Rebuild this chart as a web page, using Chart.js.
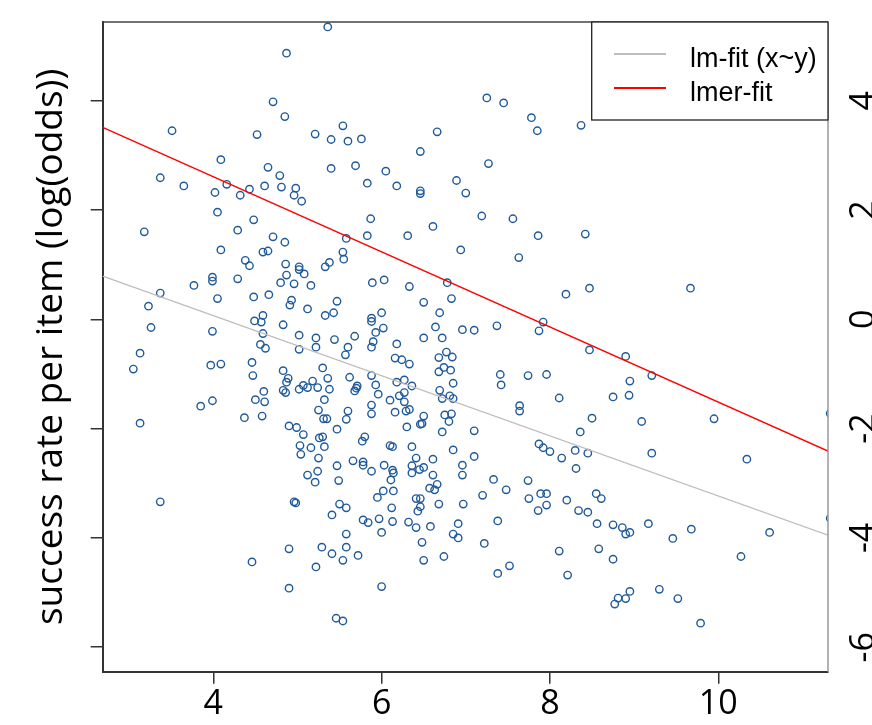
<!DOCTYPE html>
<html>
<head>
<meta charset="utf-8">
<script src="https://cdn.jsdelivr.net/npm/chart.js@4.4.1/dist/chart.umd.min.js"></script>
<style>
html, body { margin: 0; padding: 0; background: #ffffff; }
canvas { display: block; }
</style>
</head>
<body>
<canvas id="fit_Chart" width="872" height="725"></canvas>
<script>
// 題目 (x) 與成功率 (y)
const itemX = [
    4.87,4.71,4.85,3.51,4.52,4.09,4.65,4.79,3.37,3.65,
    4.16,4.61,4.81,4.02,4.32,4.43,4.05,4.48,3.18,4.29,
    4.71,4.85,4.09,4.59,4.65,4.38,4.43,4.86,4.87,3.99,
    3.99,4.29,3.77,4.80,3.37,4.05,4.48,4.66,4.93,4.91,
    3.23,3.26,3.99,4.49,4.59,4.57,4.83,4.59,4.56,3.13,
    4.62,5.36,5.54,5.21,5.40,5.60,5.76,6.66,6.46,5.40,
    5.69,6.05,5.83,6.18,6.46,6.46,6.89,7.00,4.98,4.96,
    5.05,5.87,5.83,5.58,6.31,6.61,6.94,5.54,5.55,5.38,
    5.33,5.02,5.02,5.08,4.96,5.16,5.89,6.03,6.33,6.78,
    5.47,5.12,5.33,5.43,5.88,5.88,6.00,6.50,6.83,6.69,
    5.02,5.22,5.44,5.68,5.93,6.02,5.90,6.18,6.50,6.64,
    6.72,6.96,7.10,5.60,5.22,5.88,6.77,5.02,5.57,7.25,
    7.45,7.78,7.85,8.37,7.27,7.19,7.56,7.86,8.42,7.63,
    8.19,8.47,7.37,7.87,7.92,8.47,9.67,8.90,6.68,6.84,
    3.05,3.13,3.37,3.97,4.09,4.46,4.47,4.60,4.50,4.61,
    3.99,3.85,4.37,4.58,4.83,4.87,4.83,4.86,4.90,4.46,
    4.90,4.90,4.89,6.16,6.24,6.33,6.68,6.74,6.82,5.30,
    5.02,5.07,5.12,5.18,5.24,5.36,5.38,5.62,5.71,5.70,
    5.68,5.88,5.93,5.96,6.18,6.27,6.36,6.27,6.21,6.27,
    6.10,6.33,6.29,6.16,5.88,5.88,5.32,5.25,5.60,5.58,
    5.31,5.35,6.69,6.72,6.81,6.85,6.85,6.50,6.46,6.48,
    6.30,6.75,6.83,6.80,6.72,7.10,4.99,5.07,5.47,5.26,
    5.30,5.80,5.77,5.03,5.04,5.16,5.32,6.10,6.13,6.36,
    6.85,7.10,5.25,6.41,6.61,5.66,5.78,5.78,5.47,6.03,
    6.36,6.45,6.50,6.36,6.13,6.14,5.88,5.24,5.12,5.21,
    5.49,6.11,6.61,6.96,6.96,6.66,6.57,6.63,6.02,6.14,
    5.95,6.41,6.46,6.46,6.43,4.96,4.98,5.50,5.58,5.41,
    6.12,6.68,6.97,5.78,5.84,5.97,6.13,6.32,6.41,6.58,
    6.91,5.58,6.00,6.85,6.91,6.48,5.29,5.41,5.58,5.54,
    5.72,5.22,6.50,6.74,6.00,5.46,5.54,7.41,7.42,7.74,
    7.96,9.21,8.95,8.94,8.75,8.11,7.64,7.64,8.50,9.09,
    8.36,7.87,7.92,8.00,8.14,8.30,8.45,9.21,8.31,7.33,
    7.74,7.48,7.20,7.75,7.89,7.96,7.96,7.86,8.20,8.55,
    8.61,8.34,8.45,7.38,8.56,8.75,8.86,8.90,8.95,9.17,
    7.22,8.11,8.58,8.75,7.52,7.38,8.21,8.95,8.81,8.90,
    8.77,9.30,9.95,10.34,9.46,9.68,10.61,10.27,9.52,9.79,
    11.33,11.33
];
const itemY = [
    4.87,3.98,3.71,3.45,3.38,2.92,2.78,2.63,2.59,2.44,
    2.47,2.44,2.42,2.32,2.27,2.38,1.96,1.82,1.60,1.63,
    1.51,1.41,1.27,1.23,1.25,1.08,0.98,1.01,0.81,0.77,
    0.70,0.74,0.62,0.67,0.48,0.38,0.41,0.45,0.35,0.26,
    0.24,-0.15,-0.22,-0.03,0.07,-0.05,-0.10,-0.26,-0.46,-0.62,
    -0.53,5.35,3.54,3.39,3.29,3.26,3.30,3.43,3.07,2.76,
    2.81,2.71,2.49,2.44,2.35,2.30,2.54,2.31,2.40,2.27,
    2.16,1.84,1.53,1.48,1.53,1.70,1.27,1.23,1.10,1.04,
    0.96,0.96,0.91,0.83,0.65,0.62,0.67,0.72,0.60,0.67,
    0.33,0.19,0.07,0.12,0.02,-0.04,0.12,0.31,0.38,0.12,
    -0.29,-0.34,-0.37,-0.31,-0.24,-0.16,-0.41,-0.45,-0.34,-0.14,
    -0.34,-0.19,-0.20,-0.51,-0.51,-0.51,-0.60,-0.55,-0.65,4.05,
    3.96,3.69,3.45,3.55,2.85,1.89,1.84,1.53,1.56,1.13,
    0.46,0.57,-0.12,-0.21,-0.05,-0.56,0.57,-0.68,-0.70,-0.69,
    -0.91,-1.90,-3.34,-0.84,-0.82,-0.79,-1.03,-1.32,-1.47,-1.51,
    -1.49,-1.59,-1.80,-1.77,-0.94,-1.15,-1.30,-1.34,-1.95,-4.44,
    -4.20,-4.92,-1.08,-0.71,-0.74,-0.82,-0.96,-0.88,-0.93,-0.89,
    -1.28,-1.21,-1.25,-1.13,-1.25,-1.08,-1.28,-1.06,-1.22,-1.26,
    -1.31,-1.03,-1.20,-1.37,-1.15,-1.11,-1.22,-1.34,-1.40,-1.51,
    -1.48,-1.65,-1.68,-1.70,-1.57,-1.73,-1.47,-1.66,-1.68,-1.83,
    -1.82,-1.82,-1.30,-1.45,-1.40,-1.45,-1.17,-1.77,-1.92,-1.91,
    -1.97,-1.75,-1.73,-1.87,-2.06,-2.04,-1.98,-2.11,-2.01,-2.17,
    -2.15,-2.15,-2.23,-2.31,-2.47,-2.35,-2.33,-2.31,-2.33,-2.33,
    -2.39,-2.51,-2.54,-2.54,-2.56,-2.59,-2.61,-2.67,-2.68,-2.67,
    -2.68,-2.75,-2.71,-2.81,-2.76,-2.81,-2.78,-2.78,-2.85,-2.98,
    -2.95,-2.94,-2.85,-2.67,-2.85,-3.02,-3.09,-3.12,-3.14,-3.14,
    -3.26,-3.28,-3.28,-3.43,-3.51,-3.34,-3.36,-3.38,-3.45,-3.58,
    -3.45,-3.38,-3.38,-3.67,-3.72,-3.65,-3.70,-3.71,-3.81,-3.79,
    -3.74,-3.93,-3.90,-3.93,-4.00,-4.08,-4.17,-4.29,-4.17,-4.41,
    -4.32,-4.53,-4.41,-4.34,-4.89,-5.47,-5.52,-1.01,-1.20,-1.03,
    -1.01,-1.03,-1.13,-1.39,-1.42,-1.44,-1.58,-1.68,-1.81,-1.87,
    -2.06,-2.28,-2.35,-2.42,-2.54,-2.40,-2.45,-2.45,-2.73,-2.93,
    -2.95,-3.12,-3.22,-3.28,-3.19,-3.19,-3.40,-3.50,-3.31,-3.19,
    -3.28,-3.50,-3.53,-3.69,-3.74,-3.76,-3.81,-3.93,-3.90,-3.74,
    -4.10,-4.24,-4.20,-4.39,-4.51,-4.65,-4.68,-4.98,-5.10,-5.11,
    -5.21,-4.94,-1.82,-2.56,-4.01,-3.84,-3.90,-4.34,-5.11,-5.56,
    -1.72,-3.64
];

// 兩條迴歸線的端點
const lmFitX = [2.686, 11.304];
const lmFitY = [0.79, -3.95];
const lmerFitX = [2.686, 11.304];
const lmerFitY = [3.51, -2.41];

// 刻度
const xTicks = [4, 6, 8, 10];
const yTicks = [-6, -4, -2, 0, 2, 4];

const pointColor = 'rgb(31, 90, 155)';

function toPoints(xs, ys){
    return xs.map((x, i) => ({x: x, y: ys[i]}));
}

// 外框, 右側刻度, 圖例
const extras = {
    id: 'extras',
    afterDraw(chart){
        const ctx = chart.ctx;
        const a = chart.chartArea;
        const ys = chart.scales.y;
        ctx.save();

        ctx.lineWidth = 1.5;
        ctx.strokeStyle = '#444444';
        ctx.beginPath();
        ctx.moveTo(a.left, a.top);
        ctx.lineTo(a.right, a.top);
        ctx.stroke();
        ctx.strokeStyle = '#999999';
        ctx.beginPath();
        ctx.moveTo(a.right, a.top);
        ctx.lineTo(a.right, a.bottom);
        ctx.stroke();

        // 右側刻度 (旋轉)
        ctx.fillStyle = '#000000';
        ctx.font = '34px "Open Sans"';
        ctx.textAlign = 'center';
        ctx.textBaseline = 'alphabetic';
        yTicks.forEach(v => {
            ctx.save();
            ctx.translate(a.right + 46, ys.getPixelForValue(v));
            ctx.rotate(-Math.PI / 2);
            ctx.fillText(String(v), 0, 0);
            ctx.restore();
        });

        // 圖例
        const box = {left: 591.7, top: a.top, right: a.right, bottom: 120};
        ctx.fillStyle = '#ffffff';
        ctx.fillRect(box.left, box.top, box.right - box.left, box.bottom - box.top);
        ctx.strokeStyle = '#222222';
        ctx.lineWidth = 1.3;
        ctx.strokeRect(box.left, box.top, box.right - box.left, box.bottom - box.top);

        const items = chart.data.datasets.filter(d => d.type === 'line');
        const rows = [54, 88];
        ctx.font = '27px "Liberation Sans", Arial, sans-serif';
        ctx.textAlign = 'left';
        items.forEach((d, i) => {
            ctx.strokeStyle = d.borderColor;
            ctx.lineWidth = 2;
            ctx.beginPath();
            ctx.moveTo(614, rows[i]);
            ctx.lineTo(666, rows[i]);
            ctx.stroke();
            ctx.fillStyle = '#000000';
            ctx.fillText(d.label, 690, rows[i] + 13);
        });

        ctx.restore();
    }
};

const ctx = document.getElementById('fit_Chart').getContext('2d');

const FitChart = new Chart(ctx, {
    type: 'scatter',
    data: {
        datasets: [
            {
                type: 'line',
                label: 'lm-fit (x~y)',
                data: toPoints(lmFitX, lmFitY),
                borderColor: '#bebebe',
                borderWidth: 1.3,
                pointRadius: 0,
                fill: false,
                order: 1
            },
            {
                type: 'line',
                label: 'lmer-fit',
                data: toPoints(lmerFitX, lmerFitY),
                borderColor: '#ff0000',
                borderWidth: 1.4,
                pointRadius: 0,
                fill: false,
                order: 0
            },
            {
                type: 'scatter',
                label: 'items',
                data: toPoints(itemX, itemY),
                showLine: false,
                pointStyle: 'circle',
                pointRadius: 3.7,
                pointBorderWidth: 1.4,
                pointBorderColor: pointColor,
                pointBackgroundColor: 'rgba(0, 0, 0, 0)',
                clip: 0,
                order: 2
            }
        ]
    },
    options: {
        responsive: false,
        animation: false,
        layout: {
            padding: {top: 22, right: 44, bottom: 0, left: 0}
        },
        scales: {
            x: {
                type: 'linear',
                min: 2.686,
                max: 11.304,
                afterBuildTicks: s => { s.ticks = xTicks.map(v => ({value: v})); },
                afterFit: s => { s.height = 53.3; },
                grid: {
                    drawOnChartArea: false,
                    drawTicks: true,
                    tickLength: 12,
                    color: '#333333',
                    lineWidth: 1.5
                },
                border: {color: '#333333', width: 2},
                ticks: {
                    color: '#000000',
                    font: {family: 'Open Sans', size: 34},
                    padding: 0,
                    maxRotation: 0,
                    autoSkip: false
                }
            },
            y: {
                type: 'linear',
                min: -6.448,
                max: 5.44,
                afterBuildTicks: s => { s.ticks = yTicks.map(v => ({value: v})); },
                afterFit: s => { s.width = 102.7; },
                grid: {
                    drawOnChartArea: false,
                    drawTicks: true,
                    tickLength: 12,
                    color: '#333333',
                    lineWidth: 1.5
                },
                border: {color: '#333333', width: 2},
                ticks: {display: false},
                title: {
                    display: true,
                    text: 'success rate per item (log(odds))',
                    color: '#000000',
                    font: {family: 'Open Sans', size: 37},
                    padding: {top: 29, bottom: 0}
                }
            }
        },
        plugins: {
            legend: {display: false},
            tooltip: {enabled: false}
        }
    },
    plugins: [extras]
});
</script>
</body>
</html>
